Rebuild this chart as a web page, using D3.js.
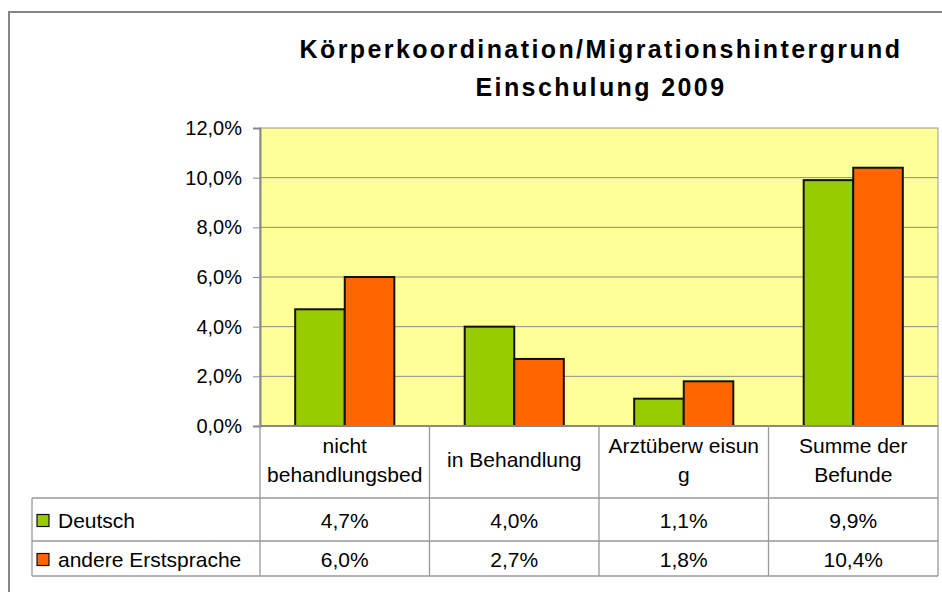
<!DOCTYPE html>
<html>
<head>
<meta charset="utf-8">
<script src="https://cdn.jsdelivr.net/npm/d3@7"></script>
<style>
  body { margin: 0; background: #fff; }
  svg { display: block; font-family: "Liberation Sans", Arial, sans-serif; }
</style>
</head>
<body>
<svg id="chart" width="942" height="592"></svg>
<script>
// data
const categories = ["nicht behandlungsbed", "in Behandlung", "Arztüberweisung", "Summe der Befunde"];
const categoryLines = [["nicht", "behandlungsbed"], ["in Behandlung"], ["Arztüberw eisun", "g"], ["Summe der", "Befunde"]];
const seriesNames = ["Deutsch", "andere Erstsprache"];
const deutsch = [4.7, 4.0, 1.1, 9.9];
const andere = [6.0, 2.7, 1.8, 10.4];
const yTicks = [0, 2, 4, 6, 8, 10, 12];
const colors = ["#99cc00", "#ff6600"];
const titleLines = ["Körperkoordination/Migrationshintergrund", "Einschulung 2009"];

const series = [deutsch, andere];
const fmt = v => v.toFixed(1).replace(".", ",") + "%";
const FS = 20;   // axis labels
const TFS = 21;  // table text

var svg = d3.select("#chart");
const plot = { left: 260, right: 938, top: 128, bottom: 426 };

// outer frame (runs off the right/bottom edge)
svg.append("rect")
    .attr("x", 9).attr("y", 12)
    .attr("width", 960).attr("height", 600)
    .attr("fill", "#fff")
    .attr("stroke", "#868686").attr("stroke-width", 2);

// title
svg.append("g").selectAll("text")
    .data(titleLines)
    .join("text")
    .attr("x", 601)
    .attr("y", (d, i) => 58 + i * 38)
    .attr("text-anchor", "middle")
    .attr("font-size", 25)
    .attr("font-weight", "bold")
    .attr("letter-spacing", 2.4)
    .text(d => d);

var x = d3.scaleBand().domain(categories).range([plot.left, plot.right]);
var xs = d3.scaleBand().domain(seriesNames).range([0, x.bandwidth()]).paddingInner(0).paddingOuter(0.71);
var y = d3.scaleLinear().domain([0, 12]).range([plot.bottom, plot.top]);

// plot area
svg.append("rect")
    .attr("x", plot.left).attr("y", plot.top)
    .attr("width", plot.right - plot.left).attr("height", plot.bottom - plot.top)
    .attr("fill", "#ffff99")
    .attr("stroke", "#999").attr("stroke-width", 1);

// gridlines
svg.append("g").selectAll("line")
    .data(yTicks.slice(1, -1))
    .join("line")
    .attr("x1", plot.left).attr("x2", plot.right)
    .attr("y1", d => y(d)).attr("y2", d => y(d))
    .attr("stroke", "#8c8c8c").attr("stroke-width", 1);

// y axis
var yAxis = d3.axisLeft(y).tickValues(yTicks).tickSize(7).tickPadding(11).tickFormat(fmt);
var ya = svg.append("g").attr("transform", `translate(${plot.left},0)`).call(yAxis);
ya.select(".domain").attr("stroke", "#888").attr("stroke-width", 2);
ya.selectAll(".tick line").attr("stroke", "#888");
ya.selectAll(".tick text")
    .attr("font-family", "Liberation Sans, Arial, sans-serif")
    .attr("font-size", FS).attr("fill", "#000");

// bars
series.forEach((vals, s) => {
    svg.append("g").selectAll("rect")
        .data(vals)
        .join("rect")
        .attr("x", (d, i) => x(categories[i]) + xs(seriesNames[s]))
        .attr("y", d => y(d))
        .attr("width", xs.bandwidth())
        .attr("height", d => y(0) - y(d))
        .attr("fill", colors[s])
        .attr("stroke", "#111").attr("stroke-width", 2);
});

// baseline
svg.append("line")
    .attr("x1", plot.left).attr("x2", plot.right)
    .attr("y1", plot.bottom).attr("y2", plot.bottom)
    .attr("stroke", "#888").attr("stroke-width", 2);

// data table
const rowY = [plot.bottom, 498, 541, 576];
const tableLeft = 32;
var tbl = svg.append("g").attr("stroke", "#999").attr("stroke-width", 1.3);
tbl.selectAll(".h")
    .data(rowY.slice(1))
    .join("line")
    .attr("x1", tableLeft).attr("x2", plot.right)
    .attr("y1", d => d).attr("y2", d => d);
tbl.append("line").attr("x1", tableLeft).attr("x2", tableLeft).attr("y1", rowY[1]).attr("y2", rowY[3]);
// vertical lines at category boundaries
tbl.selectAll(".v")
    .data(categories.concat(["end"]))
    .join("line")
    .attr("x1", (d, i) => plot.left + i * x.bandwidth())
    .attr("x2", (d, i) => plot.left + i * x.bandwidth())
    .attr("y1", plot.bottom).attr("y2", rowY[3]);

// category labels
categories.forEach((c, i) => {
    const lines = categoryLines[i];
    const cy = (rowY[0] + rowY[1]) / 2;
    svg.append("g").selectAll("text")
        .data(lines)
        .join("text")
        .attr("x", x(c) + x.bandwidth() / 2)
        .attr("y", (d, j) => cy + 5 + (j - (lines.length - 1) / 2) * 29)
        .attr("text-anchor", "middle")
        .attr("font-size", TFS)
        .text(d => d);
});

// values rows + legend
series.forEach((vals, s) => {
    const cy = (rowY[s + 1] + rowY[s + 2]) / 2;
    svg.append("g").selectAll("text")
        .data(vals)
        .join("text")
        .attr("x", (d, i) => x(categories[i]) + x.bandwidth() / 2)
        .attr("y", cy + 8)
        .attr("text-anchor", "middle")
        .attr("font-size", TFS)
        .text(d => fmt(d));
    svg.append("rect")
        .attr("x", 37).attr("y", cy - 5)
        .attr("width", 12).attr("height", 12)
        .attr("fill", colors[s]).attr("stroke", "#111").attr("stroke-width", 1.2);
    svg.append("text")
        .attr("x", 58).attr("y", cy + 8)
        .attr("font-size", TFS)
        .text(seriesNames[s]);
});
</script>
</body>
</html>
